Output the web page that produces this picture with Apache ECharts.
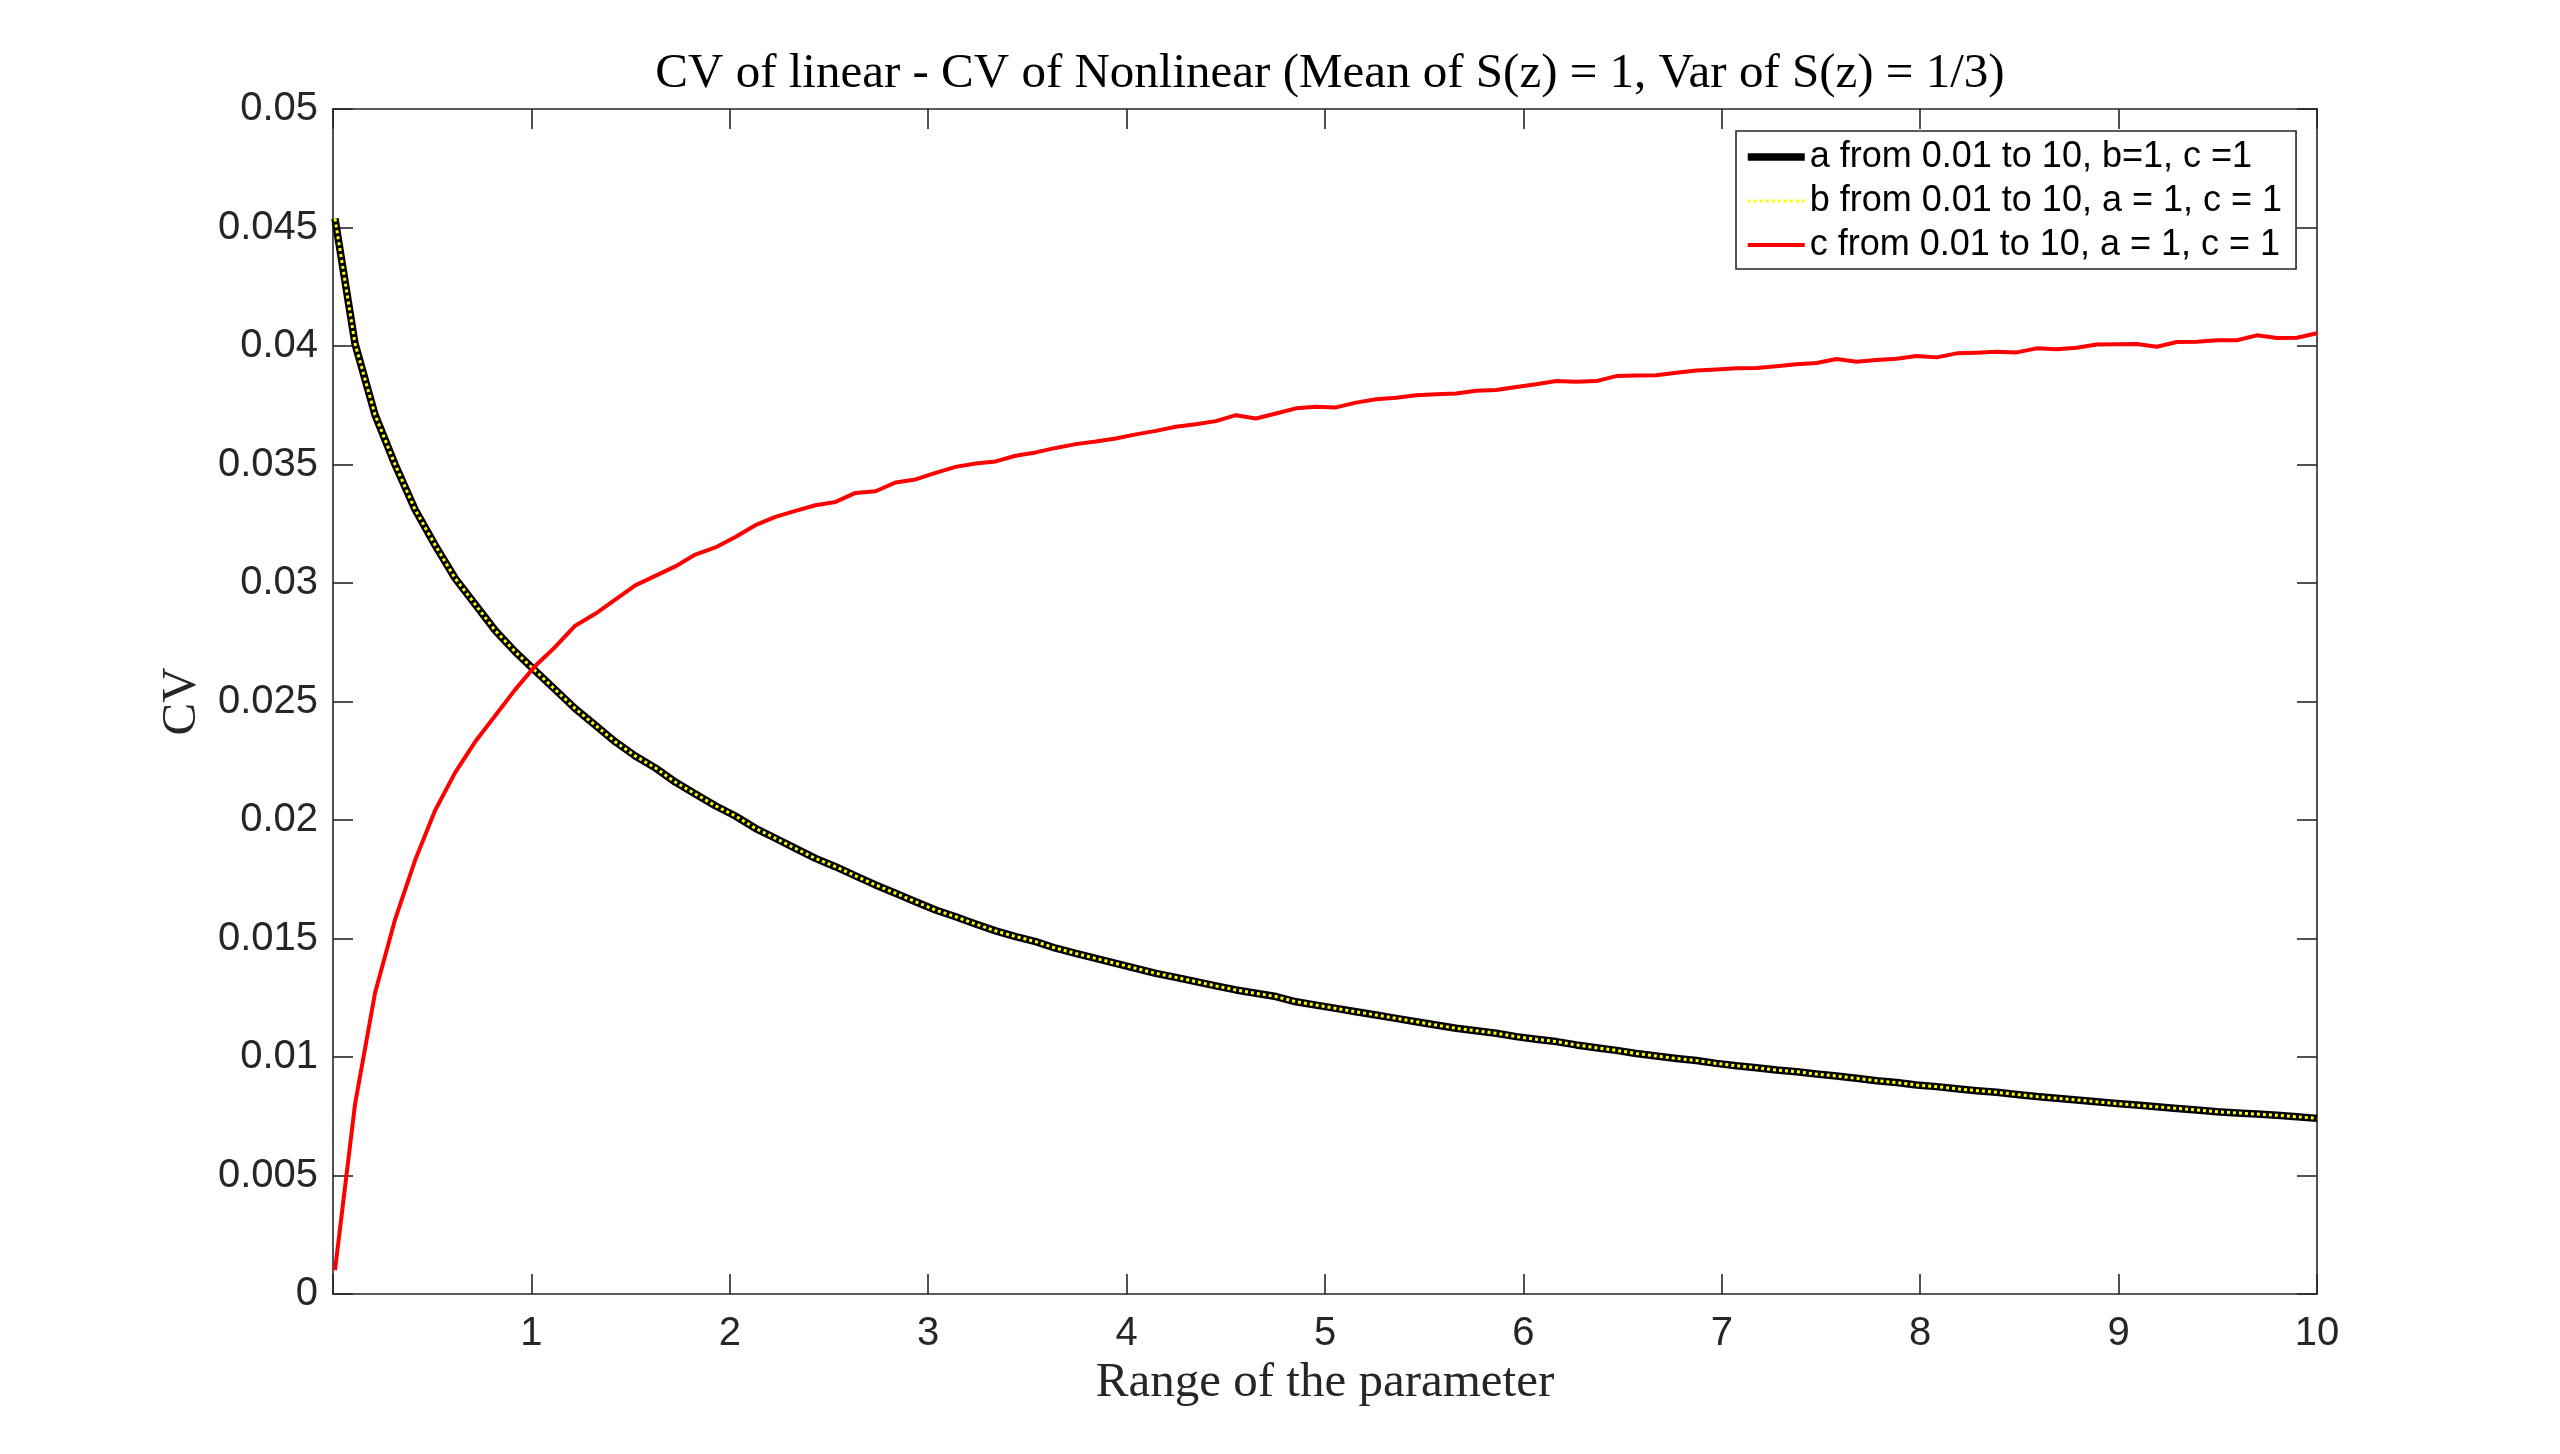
<!DOCTYPE html>
<html>
<head>
<meta charset="utf-8">
<title>CV of linear - CV of Nonlinear</title>
<script src="https://cdn.jsdelivr.net/npm/echarts@6.0.0/dist/echarts.min.js"></script>
<style>
  html, body { margin: 0; padding: 0; background: #fff; }
  #chart { width: 2560px; height: 1454px; }
</style>
</head>
<body>
<div id="chart"></div>
<script>
// parameter range: 100 samples from 0.01 to 10 (as in the legend text)
var paramFrom = 0.01, paramTo = 10, paramCount = 100;

// CV difference, parameter a varied (b = 1, c = 1)
var cvA = [
  0.04538, 0.0401, 0.0371, 0.0350, 0.0331, 0.0316, 0.0302, 0.0291, 0.0280, 0.0271,
  0.0263, 0.0255, 0.0247, 0.0240, 0.0233, 0.0227, 0.0222, 0.0216, 0.0211, 0.0206,
  0.02017, 0.01965, 0.01923, 0.01880, 0.01838, 0.01803, 0.01764, 0.01726, 0.01691, 0.01655,
  0.01620, 0.01592, 0.01561, 0.01532, 0.01508, 0.01487, 0.01459, 0.01437, 0.01416, 0.01395,
  0.01374, 0.01353, 0.01336, 0.01318, 0.01300, 0.01283, 0.01269, 0.01255, 0.01233, 0.01219,
  0.01205, 0.01191, 0.01177, 0.01163, 0.01149, 0.01135, 0.01121, 0.01111, 0.01100, 0.01086,
  0.01075, 0.01065, 0.01051, 0.01039, 0.01028, 0.01015, 0.01004, 0.00994, 0.00985, 0.00973,
  0.00963, 0.00955, 0.00945, 0.00938, 0.00928, 0.00920, 0.00910, 0.00900, 0.00892, 0.00882,
  0.00875, 0.00866, 0.00858, 0.00851, 0.00842, 0.00833, 0.00826, 0.00819, 0.00811, 0.00804,
  0.00797, 0.00790, 0.00783, 0.00776, 0.00769, 0.00764, 0.00759, 0.00754, 0.00748, 0.00741
];

// parameter b varied -- the dotted curve lies exactly on top of the a curve
var cvB = cvA;

// parameter c varied
var cvC = [
  0.0010, 0.0080, 0.0127, 0.0158, 0.0183, 0.0204, 0.0220, 0.0233, 0.0244, 0.0255,
  0.0265, 0.0273, 0.0282, 0.0287, 0.0293, 0.0299, 0.0303, 0.0307, 0.0312, 0.0315,
  0.03194, 0.03244, 0.03279, 0.03304, 0.03328, 0.03342, 0.03380, 0.03387, 0.03424, 0.03437,
  0.03465, 0.03490, 0.03504, 0.03513, 0.03537, 0.03551, 0.03570, 0.03586, 0.03597, 0.03610,
  0.03627, 0.03642, 0.03659, 0.03670, 0.03683, 0.03708, 0.03694, 0.03715, 0.03737, 0.03744,
  0.03741, 0.03761, 0.03775, 0.03782, 0.03792, 0.03796, 0.03800, 0.03811, 0.03814, 0.03827,
  0.03839, 0.03852, 0.03849, 0.03852, 0.03873, 0.03876, 0.03877, 0.03887, 0.03897, 0.03901,
  0.03906, 0.03907, 0.03915, 0.03923, 0.03928, 0.03945, 0.03934, 0.03941, 0.03946, 0.03958,
  0.03952, 0.03969, 0.03972, 0.03976, 0.03973, 0.03990, 0.03986, 0.03993, 0.04006, 0.04007,
  0.04008, 0.03997, 0.04017, 0.04018, 0.04024, 0.04024, 0.04045, 0.04034, 0.04035, 0.04054
];

var seriesNames = [
  'a from 0.01 to 10, b=1, c =1',
  'b from 0.01 to 10, a = 1, c = 1',
  'c from 0.01 to 10, a = 1, c = 1'
];

var titleText = 'CV of linear - CV of Nonlinear (Mean of S(z) = 1, Var of S(z) = 1/3)';
var xName = 'Range of the parameter';
var yName = 'CV';

// x grid of the parameter
var xs = [];
for (var i = 0; i < paramCount; i++) {
  xs.push(paramFrom + i * (paramTo - paramFrom) / (paramCount - 1));
}
function pairs(vals) {
  return vals.map(function (v, k) { return [xs[k], v]; });
}

var axisColor = '#262626';
var sans = '"Liberation Sans", Arial, Helvetica, sans-serif';
var serif = '"Liberation Serif", "Times New Roman", serif';

// line styles, shared by the curves and their legend samples
var styleA = { color: '#000', width: 7.5, join: 'round' };
var styleB = { color: '#ffff00', width: 3, type: [3, 3], cap: 'butt' };
var styleC = { color: '#ff0000', width: 4, join: 'round' };

var chart = echarts.init(document.getElementById('chart'), null, { renderer: 'canvas' });

// box style axes: ticks inside, no grid lines, never jump to zero
function boxAxis(extra) {
  return Object.assign({
    axisLine: { show: true, onZero: false, lineStyle: { color: axisColor, width: 1.6 } },
    axisTick: { show: true, inside: true, length: 20, lineStyle: { color: axisColor, width: 1.6 } },
    splitLine: { show: false }
  }, extra);
}

var option = {
  backgroundColor: '#fff',
  animation: false,
  title: {
    text: titleText,
    left: 1325,
    top: 45,
    textAlign: 'center',
    textStyle: { fontFamily: serif, fontSize: 49, fontWeight: 'normal', color: '#000' }
  },
  grid: { left: 333, right: 243, top: 109, bottom: 160, containLabel: false },
  legend: {
    orient: 'vertical',
    left: 1736,
    top: 131,
    padding: [8, 14, 6, 8],
    itemGap: 8,
    itemWidth: 57,
    itemHeight: 36,
    backgroundColor: '#fff',
    borderColor: axisColor,
    borderWidth: 1.6,
    itemStyle: { color: 'rgba(0,0,0,0)', borderWidth: 0, opacity: 0 },
    textStyle: { fontFamily: sans, fontSize: 36, color: '#000' },
    data: [
      { name: seriesNames[0], lineStyle: styleA },
      { name: seriesNames[1], lineStyle: styleB },
      { name: seriesNames[2], lineStyle: styleC }
    ]
  },
  xAxis: [
    boxAxis({
      type: 'value',
      position: 'bottom',
      min: 0,
      max: 10,
      interval: 1,
      name: xName,
      nameLocation: 'middle',
      nameGap: 64,
      nameTextStyle: { fontFamily: serif, fontSize: 49, color: axisColor },
      axisLabel: {
        margin: 20,
        fontFamily: sans,
        fontSize: 40,
        color: axisColor,
        formatter: function (v) { return v === 0 ? '' : String(v); }
      }
    }),
    boxAxis({
      type: 'value',
      position: 'top',
      min: 0,
      max: 10,
      interval: 1,
      axisLabel: { show: false }
    })
  ],
  yAxis: [
    boxAxis({
      type: 'value',
      position: 'left',
      min: 0,
      max: 0.05,
      interval: 0.005,
      name: yName,
      nameLocation: 'middle',
      nameGap: 126,
      nameRotate: 90,
      nameTextStyle: { fontFamily: serif, fontSize: 49, color: axisColor },
      axisLabel: { margin: 15, fontFamily: sans, fontSize: 40, color: axisColor }
    }),
    boxAxis({
      type: 'value',
      position: 'right',
      min: 0,
      max: 0.05,
      interval: 0.005,
      axisLabel: { show: false }
    })
  ],
  series: [
    {
      name: seriesNames[0],
      type: 'line',
      data: pairs(cvA),
      showSymbol: false,
      symbol: 'none',
      lineStyle: styleA,
      itemStyle: { color: styleA.color }
    },
    {
      name: seriesNames[1],
      type: 'line',
      data: pairs(cvB),
      showSymbol: false,
      symbol: 'none',
      lineStyle: styleB,
      itemStyle: { color: styleB.color }
    },
    {
      name: seriesNames[2],
      type: 'line',
      data: pairs(cvC),
      showSymbol: false,
      symbol: 'none',
      lineStyle: styleC,
      itemStyle: { color: styleC.color }
    }
  ]
};

chart.setOption(option);
</script>
</body>
</html>
